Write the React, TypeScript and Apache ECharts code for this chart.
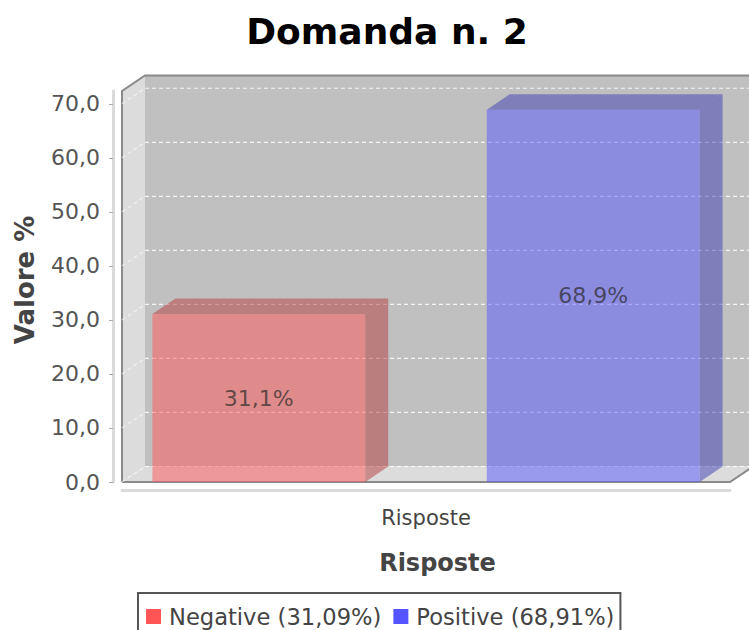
import React, { useEffect, useRef } from 'react';
import * as echarts from 'echarts';

const chartTitle = 'Domanda n. 2';
const categories = ['Risposte'];
const seriesNames = ['Negative', 'Positive'];
const seriesValues = [31.09, 68.91];
const yTicks = [0, 10, 20, 30, 40, 50, 60, 70];
const yMax = 72.36;
const xAxisTitle = 'Risposte';
const yAxisTitle = 'Valore %';

const FONT = "'DejaVu Sans', Verdana, sans-serif";
const DX = 23;
const DY = 15.5;
const BAR_START = [-0.45, 0.1];
const BAR_W = 0.35;
const COLORS: number[][] = [
  [255, 85, 85],
  [85, 85, 255],
];

const fmt1 = (v: number) => v.toFixed(1).replace('.', ',');
const fmt2 = (v: number) => v.toFixed(2).replace('.', ',');

function frame(api: any) {
  const c0 = api.coord([0, 0]);
  const cTop = api.coord([0, yMax]);
  const band = api.size([1, 0])[0];
  return { left: c0[0] - band / 2, right: c0[0] + band / 2, yBot: c0[1], yTop: cTop[1], band };
}

export default function App() {
  const ref = useRef<HTMLDivElement>(null);
  useEffect(() => {
    document.body.style.margin = '0';
    const chart = echarts.init(ref.current!, undefined, { renderer: 'svg' });

    const wallsSeries = {
      type: 'custom',
      name: 'walls',
      z: 1,
      silent: true,
      encode: { x: 0, y: 1 },
      data: [[0, yMax]],
      renderItem: (_p: any, api: any) => {
        const f = frame(api);
        const { left, right, yBot, yTop } = f;
        return {
          type: 'group',
          children: [
            { type: 'rect', shape: { x: left + DX, y: yTop - DY, width: right - left, height: yBot - yTop }, style: { fill: '#c0c0c0' } },
            { type: 'polygon', shape: { points: [[left, yTop], [left + DX, yTop - DY], [left + DX, yBot - DY], [left, yBot]] }, style: { fill: '#dcdcdc' } },
            { type: 'polygon', shape: { points: [[left, yBot], [left + DX, yBot - DY], [right + DX, yBot - DY], [right, yBot]] }, style: { fill: '#dcdcdc' } },
            { type: 'polyline', shape: { points: [[left, yBot], [left, yTop], [left + DX, yTop - DY], [right + DX + 10, yTop - DY]] }, style: { stroke: '#8a8a8a', lineWidth: 2, fill: 'none' } },
            { type: 'polyline', shape: { points: [[left, yBot], [right, yBot], [right + DX, yBot - DY]] }, style: { stroke: '#8a8a8a', lineWidth: 2, fill: 'none' } },
          ],
        };
      },
    };

    const gridSeries = {
      type: 'custom',
      name: 'gridlines',
      z: 2,
      silent: true,
      encode: { x: 0, y: 1 },
      data: yTicks.map((v) => [0, v]),
      renderItem: (_p: any, api: any) => {
        const f = frame(api);
        const y = api.coord([0, api.value(1)])[1];
        const st = { stroke: 'rgba(255,255,255,0.85)', lineWidth: 1.2, lineDash: [4, 3] };
        return {
          type: 'group',
          children: [
            { type: 'line', shape: { x1: f.left + DX, y1: y - DY, x2: f.right + DX + 10, y2: y - DY }, style: st },
            { type: 'line', shape: { x1: f.left, y1: y, x2: f.left + DX, y2: y - DY }, style: { ...st, stroke: 'rgba(255,255,255,0.6)' } },
          ],
        };
      },
    };

    const barSeries = seriesNames.map((name, i) => {
      const [r, g, b] = COLORS[i];
      const front = `rgba(${r},${g},${b},0.5)`;
      const dark = `rgba(${Math.round(r * 0.7)},${Math.round(g * 0.7)},${Math.round(b * 0.7)},0.5)`;
      return {
        type: 'custom',
        name,
        z: 5,
        itemStyle: { color: `rgb(${r},${g},${b})` },
        encode: { x: 0, y: 1 },
        data: [[0, seriesValues[i]]],
        renderItem: (_p: any, api: any) => {
          const cat = api.value(0);
          const v = api.value(1);
          const top = api.coord([cat, v]);
          const base = api.coord([cat, 0]);
          const band = api.size([1, 0])[0];
          const x0 = top[0] + band * BAR_START[i];
          const x1 = x0 + band * BAR_W;
          const yT = top[1];
          const yB = base[1];
          return {
            type: 'group',
            children: [
              { type: 'polygon', shape: { points: [[x0, yT], [x0 + DX, yT - DY], [x1 + DX, yT - DY], [x1, yT]] }, style: { fill: dark } },
              { type: 'polygon', shape: { points: [[x1, yT], [x1 + DX, yT - DY], [x1 + DX, yB - DY], [x1, yB]] }, style: { fill: dark } },
              { type: 'rect', shape: { x: x0, y: yT, width: x1 - x0, height: yB - yT }, style: { fill: front } },
              {
                type: 'text',
                style: {
                  text: fmt1(v) + '%',
                  x: (x0 + x1) / 2,
                  y: (yT + yB) / 2,
                  align: 'center',
                  verticalAlign: 'middle',
                  fill: 'rgba(40,40,40,0.7)',
                  fontFamily: FONT,
                  fontSize: 22,
                },
              },
            ],
          };
        },
      };
    });

    chart.setOption({
      animation: false,
      backgroundColor: '#ffffff',
      title: {
        text: chartTitle,
        left: 382,
        top: 8,
        textAlign: 'center',
        textStyle: { fontFamily: FONT, fontWeight: 'bold', fontSize: 36, color: '#000' },
      },
      grid: { left: 122, right: 19, top: 91, bottom: 148, containLabel: false },
      legend: {
        data: seriesNames,
        left: 138,
        top: 593,
        icon: 'rect',
        itemWidth: 15,
        itemHeight: 15,
        itemGap: 12,
        padding: [12, 6, 12, 8],
        borderColor: '#555',
        borderWidth: 2,
        selectedMode: false,
        formatter: (name: string) => `${name} (${fmt2(seriesValues[seriesNames.indexOf(name)])}%)`,
        textStyle: { fontFamily: FONT, fontSize: 22.6, color: '#444', padding: [0, 0, 0, 3] },
      },
      xAxis: {
        type: 'category',
        data: categories,
        offset: 8,
        axisLine: { onZero: false, lineStyle: { color: '#dadada', width: 3 } },
        axisTick: { alignWithLabel: true, length: 4, lineStyle: { color: '#aaa' } },
        axisLabel: { margin: 17, fontFamily: FONT, fontSize: 21, color: '#444' },
        name: xAxisTitle,
        nameLocation: 'middle',
        nameGap: 61,
        nameTextStyle: { fontFamily: FONT, fontWeight: 'bold', fontSize: 24, color: '#444', padding: [0, 0, 0, 23] },
      },
      yAxis: {
        type: 'value',
        min: 0,
        max: yMax,
        interval: 10,
        offset: 9,
        splitLine: { show: false },
        axisLine: { show: true, onZero: false, lineStyle: { color: '#dadada', width: 3 } },
        axisTick: { show: true, customValues: yTicks, length: 4, lineStyle: { color: '#aaa' } },
        axisLabel: { customValues: yTicks, formatter: (v: number) => fmt1(v), margin: 13, fontFamily: FONT, fontSize: 22, color: '#555' },
        name: yAxisTitle,
        nameLocation: 'middle',
        nameRotate: 90,
        nameGap: 75,
        nameTextStyle: { fontFamily: FONT, fontWeight: 'bold', fontSize: 26, color: '#444', padding: [0, 0, 0, 13] },
      },
      series: [wallsSeries, gridSeries, ...barSeries],
    });
    return () => chart.dispose();
  }, []);
  return <div ref={ref} style={{ width: 749, height: 630 }} />;
}
